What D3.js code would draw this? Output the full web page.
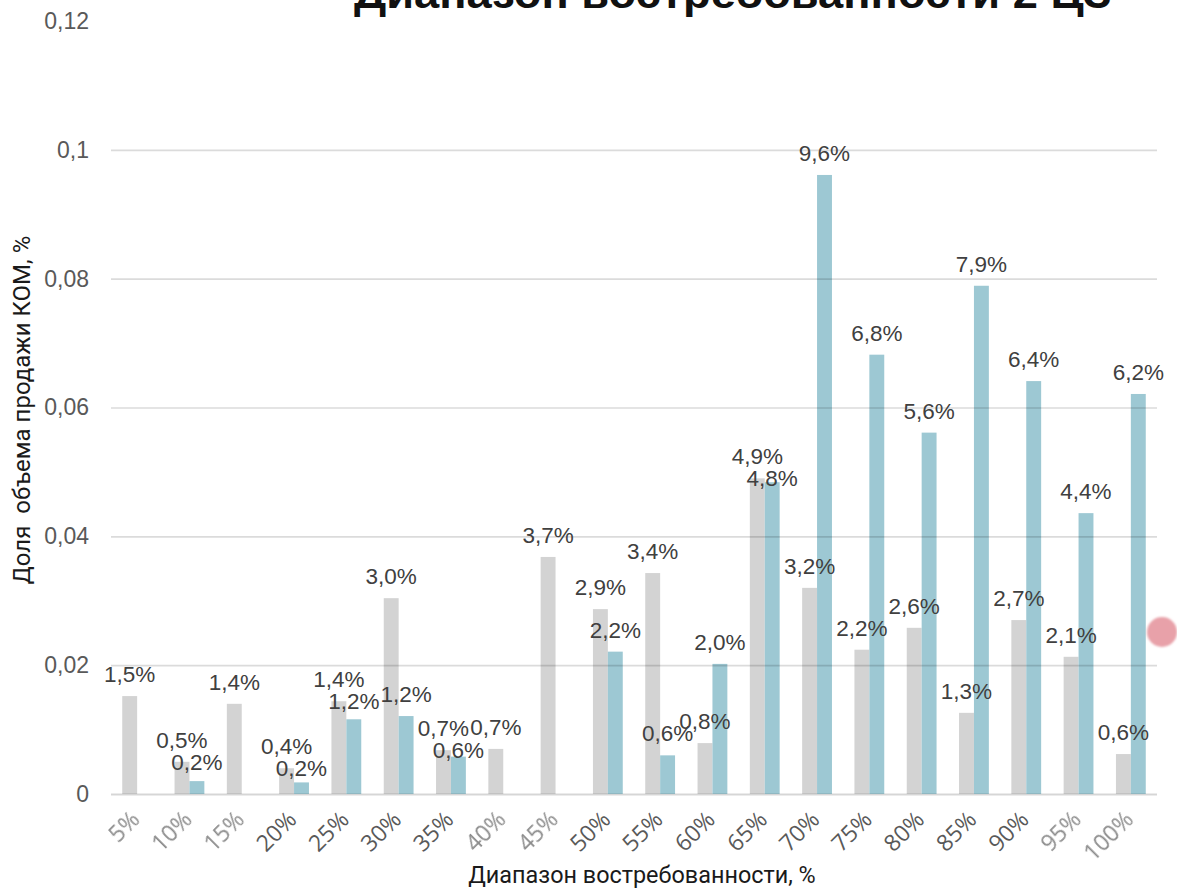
<!DOCTYPE html>
<html>
<head>
<meta charset="utf-8">
<script src="https://cdn.jsdelivr.net/npm/d3@7"></script>
<style>
  html, body { margin: 0; padding: 0; background: #fff; }
  svg { display: block; }
</style>
</head>
<body>
<svg id="chart" width="1177" height="888"></svg>
<script>
// Demand range buckets and the share of KOM sales volume for the two series
const categories = ["5%", "10%", "15%", "20%", "25%", "30%", "35%", "40%", "45%", "50%",
                    "55%", "60%", "65%", "70%", "75%", "80%", "85%", "90%", "95%", "100%"];
const seriesGray = [0.0152, 0.005, 0.014, 0.004, 0.0144, 0.0304, 0.0068, 0.007, 0.0368, 0.0287,
                    0.0343, 0.0079, 0.049, 0.032, 0.0224, 0.0258, 0.0126, 0.027, 0.0213, 0.0062];
const seriesTeal = [0, 0.002, 0, 0.0018, 0.0116, 0.0121, 0.0058, 0, 0, 0.0221,
                    0.006, 0.0202, 0.0484, 0.0961, 0.0682, 0.0561, 0.0789, 0.0641, 0.0436, 0.0621];
const yTicks = [0, 0.02, 0.04, 0.06, 0.08, 0.1, 0.12];
// Tick labels drawn lighter and softened
const faintTicks = ["5%", "10%", "15%", "40%", "45%", "95%", "100%"];

const titleText = "Диапазон востребованности 2 ЦЗ";
const xTitle = "Диапазон востребованности, %";
const yTitle = "Доля  объема продажи КОМ, %";

const ru = d3.formatLocale({ decimal: ",", thousands: "\u00a0", grouping: [3], currency: ["", "\u00a0₽"] });
const fmtTick = ru.format("~g");
const fmtPct = ru.format(".1%");

const svg = d3.select("#chart");
const plotLeft = 111, plotRight = 1157, plotTop = 21, plotBottom = 794;

const x = d3.scaleBand().domain(categories).range([plotLeft, plotRight]).paddingInner(0.43).paddingOuter(0.215);
const sub = d3.scaleBand().domain(["gray", "teal"]).range([0, x.bandwidth()]);
const y = d3.scaleLinear().domain([0, 0.12]).range([plotBottom, plotTop]);

const defs = svg.append("defs");
defs.append("filter").attr("id", "soft").attr("x", "-20%").attr("y", "-20%").attr("width", "140%").attr("height", "140%")
  .append("feGaussianBlur").attr("stdDeviation", 0.7);
defs.append("filter").attr("id", "dotblur").attr("x", "-30%").attr("y", "-30%").attr("width", "160%").attr("height", "160%")
  .append("feGaussianBlur").attr("stdDeviation", 0.8);

const rows = categories.map((c, i) => ({ c, g: seriesGray[i], t: seriesTeal[i] }));

// Bars
const groups = svg.append("g").selectAll("g").data(rows).join("g")
  .attr("transform", d => `translate(${x(d.c)},0)`);
groups.append("rect")
  .attr("x", sub("gray")).attr("width", sub.bandwidth())
  .attr("y", d => y(d.g)).attr("height", d => y(0) - y(d.g))
  .attr("fill", "#d3d3d3");
groups.append("rect")
  .attr("x", sub("teal")).attr("width", sub.bandwidth())
  .attr("y", d => y(d.t)).attr("height", d => y(0) - y(d.t))
  .attr("fill", "#9dc8d3");

// Gridlines drawn over the bars, translucent
const yAxis = d3.axisLeft(y).tickValues(yTicks).tickSize(-(plotRight - plotLeft)).tickFormat(fmtTick).tickPadding(22);
const ya = svg.append("g").attr("transform", `translate(${plotLeft},0)`).call(yAxis);
ya.select(".domain").remove();
ya.selectAll(".tick line")
  .attr("stroke", "#000").attr("stroke-opacity", d => d === 0 ? 0.16 : 0.14)
  .attr("stroke-width", d => d === 0 ? 2 : 1.6)
  .style("display", d => d === 0.12 ? "none" : null);
ya.selectAll(".tick text")
  .attr("fill", "#595959").style("font-family", "'Liberation Sans', Arial, sans-serif").style("font-size", "23px");

// Value labels
const labels = [];
rows.forEach(d => {
  const cx = x(d.c);
  let gy = null;
  if (d.g > 0) {
    gy = y(d.g) - 22;
    labels.push({ v: d.g, x: cx + sub("gray") + sub.bandwidth() / 2, y: gy });
  }
  if (d.t > 0) {
    let ty = y(d.t) - 22;
    if (gy !== null && ty - gy < 22 && ty - gy > -8) ty = gy + 22;
    labels.push({ v: d.t, x: cx + sub("teal") + sub.bandwidth() / 2, y: ty });
  }
});
svg.append("g").selectAll("text").data(labels).join("text")
  .attr("x", d => d.x).attr("y", d => d.y).attr("dy", "0.36em")
  .attr("text-anchor", "middle")
  .attr("fill", "#404040")
  .style("font-family", "'Liberation Sans', Arial, sans-serif").style("font-size", "22.5px")
  .text(d => fmtPct(d.v));

// Rotated category labels
svg.append("g").selectAll("text").data(categories).join("text")
  .attr("transform", d => `translate(${x(d) + x.bandwidth() / 2 + 4},${plotBottom + 27}) rotate(-45)`)
  .attr("text-anchor", "end")
  .attr("fill", d => faintTicks.includes(d) ? "#8c8c8c" : "#595959")
  .attr("filter", d => faintTicks.includes(d) ? "url(#soft)" : null)
  .style("font-family", "'Open Sans', sans-serif").style("font-size", "23px")
  .text(d => d);

// Axis titles
svg.append("text")
  .attr("x", 642).attr("y", 883).attr("text-anchor", "middle")
  .attr("fill", "#1a1a1a")
  .style("font-family", "Roboto, sans-serif").style("font-size", "23.4px")
  .text(xTitle);
svg.append("text")
  .attr("transform", "translate(30,410) rotate(-90)").attr("text-anchor", "middle")
  .attr("fill", "#1a1a1a")
  .style("font-family", "Roboto, sans-serif").style("font-size", "24px")
  .style("white-space", "pre")
  .text(yTitle);

// Chart title, clipped by the top edge
svg.append("text")
  .attr("x", 733).attr("y", 8).attr("text-anchor", "middle")
  .attr("fill", "#111")
  .attr("textLength", 758).attr("lengthAdjust", "spacingAndGlyphs")
  .style("font-family", "'Liberation Sans', Arial, sans-serif").style("font-size", "42px").style("font-weight", "bold")
  .text(titleText);

// Marker dot at the right edge
svg.append("circle")
  .attr("cx", 1162).attr("cy", 632).attr("r", 15)
  .attr("fill", "#e8a1a9").attr("filter", "url(#dotblur)");
</script>
</body>
</html>
